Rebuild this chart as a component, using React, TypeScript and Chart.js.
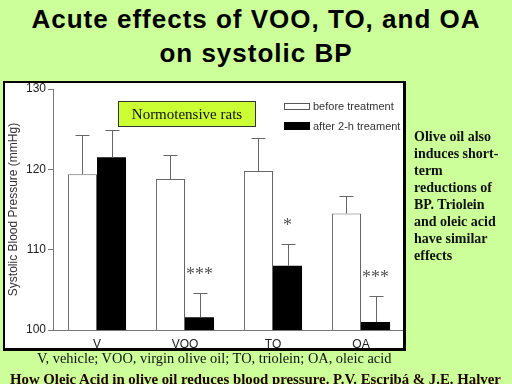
import React, { useEffect, useRef } from "react";
import { Chart, registerables } from "chart.js";

Chart.register(...registerables);

const categories = ["V", "VOO", "TO", "OA"];
const beforeValues = [119.4, 118.8, 119.8, 114.5];
const afterValues = [121.5, 101.6, 108.0, 101.0];
const beforeErrors = [4.9, 3.0, 4.1, 2.2];
const afterErrors = [3.4, 3.0, 2.7, 3.2];
const significance = ["", "***", "*", "***"];
const yTicks = [100, 110, 120, 130];
const seriesLabels = ["before treatment", "after 2-h treament"];
const titleLines = ["Acute effects of VOO, TO, and OA", "on systolic BP"];
const sideNoteLines = [
  "Olive oil also",
  "induces short-",
  "term",
  "reductions of",
  "BP. Triolein",
  "and oleic acid",
  "have similar",
  "effects",
];
const abbreviations = "V, vehicle; VOO, virgin olive oil; TO, triolein; OA, oleic acid";
const credit = "How Oleic Acid in olive oil reduces blood pressure. P.V. Escribá & J.E. Halver";

const SANS = '"Liberation Sans", Arial, sans-serif';
const SERIF = '"Liberation Serif", "Times New Roman", serif';

const errorBarPlugin = {
  id: "errorBars",
  afterDatasetsDraw(chart: any) {
    const ctx = chart.ctx;
    const y = chart.scales.y;
    const errs = [beforeErrors, afterErrors];
    const vals = [beforeValues, afterValues];
    ctx.save();
    chart.data.datasets.forEach((_ds: any, di: number) => {
      const meta = chart.getDatasetMeta(di);
      meta.data.forEach((bar: any, i: number) => {
        const top = Math.round(y.getPixelForValue(vals[di][i] + errs[di][i])) + 0.5;
        const base = bar.y;
        const x = Math.round(bar.x) + 0.5;
        ctx.strokeStyle = "#666";
        ctx.lineWidth = 1;
        ctx.beginPath();
        ctx.moveTo(x, base);
        ctx.lineTo(x, top);
        ctx.moveTo(x - 7, top);
        ctx.lineTo(x + 7, top);
        ctx.stroke();
      });
    });
    const meta1 = chart.getDatasetMeta(1);
    significance.forEach((s, i) => {
      if (!s) return;
      const bar = meta1.data[i];
      const top = y.getPixelForValue(afterValues[i] + afterErrors[i]);
      ctx.font = "18px " + SERIF;
      ctx.textAlign = "center";
      ctx.textBaseline = "alphabetic";
      ctx.fillStyle = "#555";
      ctx.fillText(s, bar.x, top - 13);
    });
    ctx.restore();
  },
};

export default function App() {
  const canvasRef = useRef<HTMLCanvasElement | null>(null);

  useEffect(() => {
    if (!canvasRef.current) return;
    const chart = new Chart(canvasRef.current, {
      type: "bar",
      data: {
        labels: categories,
        datasets: [
          {
            label: seriesLabels[0],
            data: beforeValues,
            backgroundColor: "#ffffff",
            borderColor: "#666666",
            borderWidth: 1,
            categoryPercentage: 0.66,
            barPercentage: 1,
          },
          {
            label: seriesLabels[1],
            data: afterValues,
            backgroundColor: "#000000",
            borderColor: "#000000",
            borderWidth: 0,
            categoryPercentage: 0.66,
            barPercentage: 1,
          },
        ],
      },
      options: {
        animation: false,
        responsive: false,
        maintainAspectRatio: false,
        devicePixelRatio: 1,
        layout: { padding: { left: 3, right: 107, top: 89, bottom: 34 } },
        plugins: {
          legend: { display: false },
          tooltip: { enabled: false },
          title: { display: false },
        },
        scales: {
          x: {
            grid: { display: false, drawTicks: false },
            border: { color: "#777777", width: 1 },
            ticks: { color: "#222", font: { family: SANS, size: 12 }, padding: 7 },
            afterFit(s: any) {
              s.height = 20;
            },
          },
          y: {
            min: 100,
            max: 130,
            afterBuildTicks(s: any) {
              s.ticks = yTicks.map((v) => ({ value: v }));
            },
            grid: { drawOnChartArea: false, drawTicks: true, tickLength: 5, color: "#777777" },
            border: { color: "#777777", width: 1 },
            ticks: { color: "#222", font: { family: SANS, size: 12 }, padding: 2 },
            title: {
              display: true,
              text: "Systolic Blood Pressure (mmHg)",
              color: "#333",
              font: { family: SANS, size: 12 },
              padding: { top: 3, bottom: 0 },
            },
            afterFit(s: any) {
              s.width = 50;
            },
          },
        },
      },
      plugins: [errorBarPlugin],
    } as any);
    return () => chart.destroy();
  }, []);

  return (
    <div
      style={{
        position: "absolute",
        left: 0,
        top: 0,
        width: 512,
        height: 384,
        overflow: "hidden",
        background: "#ccff99",
      }}
    >
      <div
        style={{
          position: "absolute",
          left: 0,
          top: 2,
          width: 512,
          textAlign: "center",
          fontFamily: SANS,
          fontWeight: "bold",
          fontSize: 26,
          lineHeight: "34px",
          letterSpacing: 1,
          color: "#000",
          whiteSpace: "nowrap",
        }}
      >
        {titleLines.map((l, i) => (
          <div key={i}>{l}</div>
        ))}
      </div>
      <div
        style={{
          position: "absolute",
          left: 3,
          top: 81,
          width: 403,
          height: 270,
          background: "#ffffff",
        }}
      />
      <canvas
        ref={canvasRef}
        width={512}
        height={384}
        style={{ position: "absolute", left: 0, top: 0, width: 512, height: 384 }}
      />
      <div
        style={{
          position: "absolute",
          left: 3,
          top: 81,
          width: 403,
          height: 270,
          boxSizing: "border-box",
          borderLeft: "2px solid #000",
          borderTop: "2px solid #000",
          borderRight: "3px solid #000",
          borderBottom: "3px solid #000",
        }}
      />
      <div
        style={{
          position: "absolute",
          left: 118,
          top: 101,
          width: 138,
          height: 26,
          boxSizing: "border-box",
          background: "#ccff33",
          border: "1px solid #333",
          display: "flex",
          alignItems: "center",
          justifyContent: "center",
          fontFamily: SERIF,
          fontSize: 15,
          color: "#111",
          whiteSpace: "nowrap",
        }}
      >
        Normotensive rats
      </div>
      <div
        style={{
          position: "absolute",
          left: 284,
          top: 103,
          width: 26,
          height: 7,
          boxSizing: "border-box",
          background: "#fff",
          border: "1px solid #555",
        }}
      />
      <div
        style={{
          position: "absolute",
          left: 284,
          top: 122,
          width: 26,
          height: 8,
          background: "#000",
        }}
      />
      {seriesLabels.map((l, i) => (
        <div
          key={i}
          style={{
            position: "absolute",
            left: 313,
            top: 100 + i * 20,
            height: 12,
            lineHeight: "12px",
            fontFamily: SANS,
            fontSize: 11,
            color: "#333",
            whiteSpace: "nowrap",
          }}
        >
          {l}
        </div>
      ))}
      <div
        style={{
          position: "absolute",
          left: 414,
          top: 128,
          fontFamily: SERIF,
          fontWeight: "bold",
          fontSize: 14,
          lineHeight: "17px",
          color: "#111",
          whiteSpace: "nowrap",
        }}
      >
        {sideNoteLines.map((l, i) => (
          <div key={i}>{l}</div>
        ))}
      </div>
      <div
        style={{
          position: "absolute",
          left: 37,
          top: 351,
          fontFamily: SERIF,
          fontSize: 14.4,
          lineHeight: "14px",
          color: "#111",
          whiteSpace: "nowrap",
        }}
      >
        {abbreviations}
      </div>
      <div
        style={{
          position: "absolute",
          left: 10,
          top: 372,
          fontFamily: SERIF,
          fontWeight: "bold",
          fontSize: 14.8,
          lineHeight: "15px",
          color: "#200000",
          whiteSpace: "nowrap",
        }}
      >
        {credit}
      </div>
    </div>
  );
}
